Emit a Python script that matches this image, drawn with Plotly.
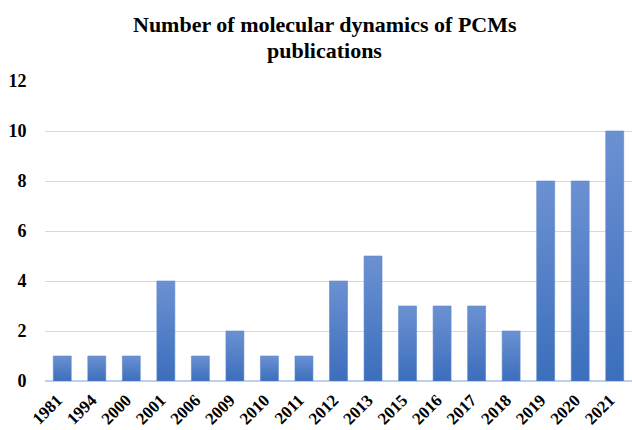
import plotly.graph_objects as go

# Publication counts per year
years = ["1981", "1994", "2000", "2001", "2006", "2009", "2010", "2011", "2012",
         "2013", "2015", "2016", "2017", "2018", "2019", "2020", "2021"]
counts = [1, 1, 1, 4, 1, 2, 1, 1, 4, 5, 3, 3, 3, 2, 8, 8, 10]
y_ticks = [0, 2, 4, 6, 8, 10, 12]
title_lines = ["Number of molecular dynamics of PCMs", "publications"]

BAR_WIDTH = 0.52
TOP_COLOR = "#6c91d2"
BOTTOM_COLOR = "#3b6ebc"
GRID_COLOR = "#cddbf1"
FONT = "Liberation Serif"

fig = go.Figure()

# Each bar is a filled polygon so it can carry its own vertical gradient
for i, v in enumerate(counts):
    x0, x1 = i - BAR_WIDTH / 2, i + BAR_WIDTH / 2
    fig.add_trace(go.Scatter(
        x=[x0, x1, x1, x0, x0],
        y=[0, 0, v, v, 0],
        mode="lines",
        fill="toself",
        line=dict(width=0.6, color="#5a86cc"),
        fillgradient=dict(
            type="vertical",
            colorscale=[[0, BOTTOM_COLOR], [1, TOP_COLOR]],
        ),
        name=years[i],
        hoverinfo="skip",
        showlegend=False,
    ))

# Two-line title with tight line spacing
for text, ypos in zip(title_lines, [1.187, 1.100]):
    fig.add_annotation(
        text=f"<b>{text}</b>",
        xref="paper", yref="paper",
        x=0.477, y=ypos,
        xanchor="center", yanchor="middle",
        showarrow=False,
        font=dict(family=FONT, size=22, color="black"),
    )

fig.update_layout(
    width=632,
    height=430,
    margin=dict(l=45, r=0, t=81, b=49),
    paper_bgcolor="white",
    plot_bgcolor="white",
    xaxis=dict(
        range=[-0.5, 16.5],
        tickmode="array",
        tickvals=list(range(len(years))),
        ticktext=[f"<b>{y}</b>" for y in years],
        tickangle=-45,
        tickfont=dict(family=FONT, size=17, color="black"),
        ticklabelstandoff=5,
        ticklabelshift=-5,
        showgrid=False,
        zeroline=False,
        showline=False,
        ticks="",
    ),
    yaxis=dict(
        range=[0, 12],
        tickmode="array",
        tickvals=y_ticks,
        ticktext=[f"<b>{t}</b>" for t in y_ticks],
        tickfont=dict(family=FONT, size=18, color="black"),
        showgrid=True,
        gridcolor=GRID_COLOR,
        gridwidth=1,
        zeroline=True,
        zerolinecolor="#bccfee",
        zerolinewidth=1.5,
        showline=False,
        ticks="outside",
        ticklen=14,
        tickcolor="rgba(0,0,0,0)",
    ),
)

fig.write_html("out.html")
